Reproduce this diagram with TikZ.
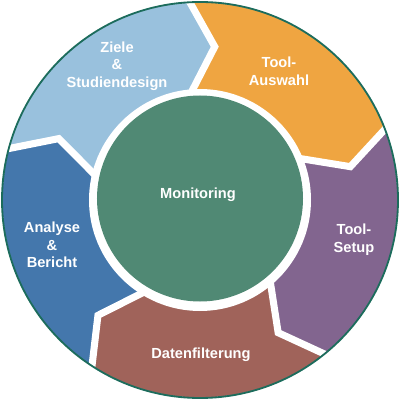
\documentclass[tikz,border=0pt]{standalone}
\usepackage{fontspec}
\setmainfont{Liberation Sans}
\usetikzlibrary{calc}

\definecolor{zielblau}{RGB}{153,193,221}
\definecolor{auswahlorange}{RGB}{239,165,65}
\definecolor{setuplila}{RGB}{130,101,143}
\definecolor{datenrot}{RGB}{160,99,90}
\definecolor{analyseblau}{RGB}{68,119,172}
\definecolor{monigruen}{RGB}{80,137,116}
\definecolor{randgruen}{RGB}{28,108,92}

\begin{document}
\begin{tikzpicture}[x=0.025cm,y=0.025cm]
\tikzset{steptext/.style={
    text=white, font=\bfseries\fontsize{10.4}{12.5}\selectfont, align=center},
    gap/.style={
    draw=white, line width=5pt, line join=miter}
}

    \useasboundingbox (-200,-200) rectangle (200,200);

    % boundaries between the steps: outer point, tip, inner point
    \coordinate (b1_out) at (165.5:202);
    \coordinate (b1_tip) at (156.5:154);
    \coordinate (b1_in) at (168:104);
    \coordinate (b2_out) at (93.5:202);
    \coordinate (b2_tip) at (84.5:154);
    \coordinate (b2_in) at (96:104);
    \coordinate (b3_out) at (21.5:202);
    \coordinate (b3_tip) at (12.5:154);
    \coordinate (b3_in) at (24:104);
    \coordinate (b4_out) at (-50.5:202);
    \coordinate (b4_tip) at (-59.5:154);
    \coordinate (b4_in) at (-48:104);
    \coordinate (b5_out) at (237.5:202);
    \coordinate (b5_tip) at (228.5:154);
    \coordinate (b5_in) at (240:104);

    \begin{scope}
    \clip (0,0) circle[radius=197.5];
    \fill[zielblau] (b1_out) -- (b1_tip) -- (b1_in) arc[start angle=168, end angle=96, radius=104]
        -- (b2_tip) -- (b2_out) arc[start angle=93.5, end angle=165.5, radius=202] -- cycle;
    \fill[auswahlorange] (b2_out) -- (b2_tip) -- (b2_in) arc[start angle=96, end angle=24, radius=104]
        -- (b3_tip) -- (b3_out) arc[start angle=21.5, end angle=93.5, radius=202] -- cycle;
    \fill[setuplila] (b3_out) -- (b3_tip) -- (b3_in) arc[start angle=24, end angle=-48, radius=104]
        -- (b4_tip) -- (b4_out) arc[start angle=-50.5, end angle=21.5, radius=202] -- cycle;
    \fill[datenrot] (b4_out) -- (b4_tip) -- (b4_in) arc[start angle=-48, end angle=-120, radius=104]
        -- (b5_tip) -- (b5_out) arc[start angle=-122.5, end angle=-50.5, radius=202] -- cycle;
    \fill[analyseblau] (b5_out) -- (b5_tip) -- (b5_in) arc[start angle=240, end angle=168, radius=104]
        -- (b1_tip) -- (b1_out) arc[start angle=165.5, end angle=237.5, radius=202] -- cycle;

    \draw[gap] (b1_out) -- (b1_tip) -- (b1_in);
    \draw[gap] (b2_out) -- (b2_tip) -- (b2_in);
    \draw[gap] (b3_out) -- (b3_tip) -- (b3_in);
    \draw[gap] (b4_out) -- (b4_tip) -- (b4_in);
    \draw[gap] (b5_out) -- (b5_tip) -- (b5_in);
    \end{scope}

    % centre
    \fill[white] (0,0) circle[radius=111];
    \fill[monigruen] (0,1.5) circle[radius=103];
    \draw[randgruen, line width=1.3pt] (0,0) circle[radius=198];

    \node[steptext] (monitoring) at (-2,5) {Monitoring};
    \node[steptext] (ziele) at (-83,134) {Ziele\\\&\\Studiendesign};
    \node[steptext] (auswahl) at (79,129) {Tool-\\Auswahl};
    \node[steptext] (setup) at (154,-40) {Tool-\\Setup};
    \node[steptext] (daten) at (1,-155) {Datenfilterung};
    \node[steptext] (analyse) at (-148,-45) {Analyse\\\&\\Bericht};

\end{tikzpicture}
\end{document}
